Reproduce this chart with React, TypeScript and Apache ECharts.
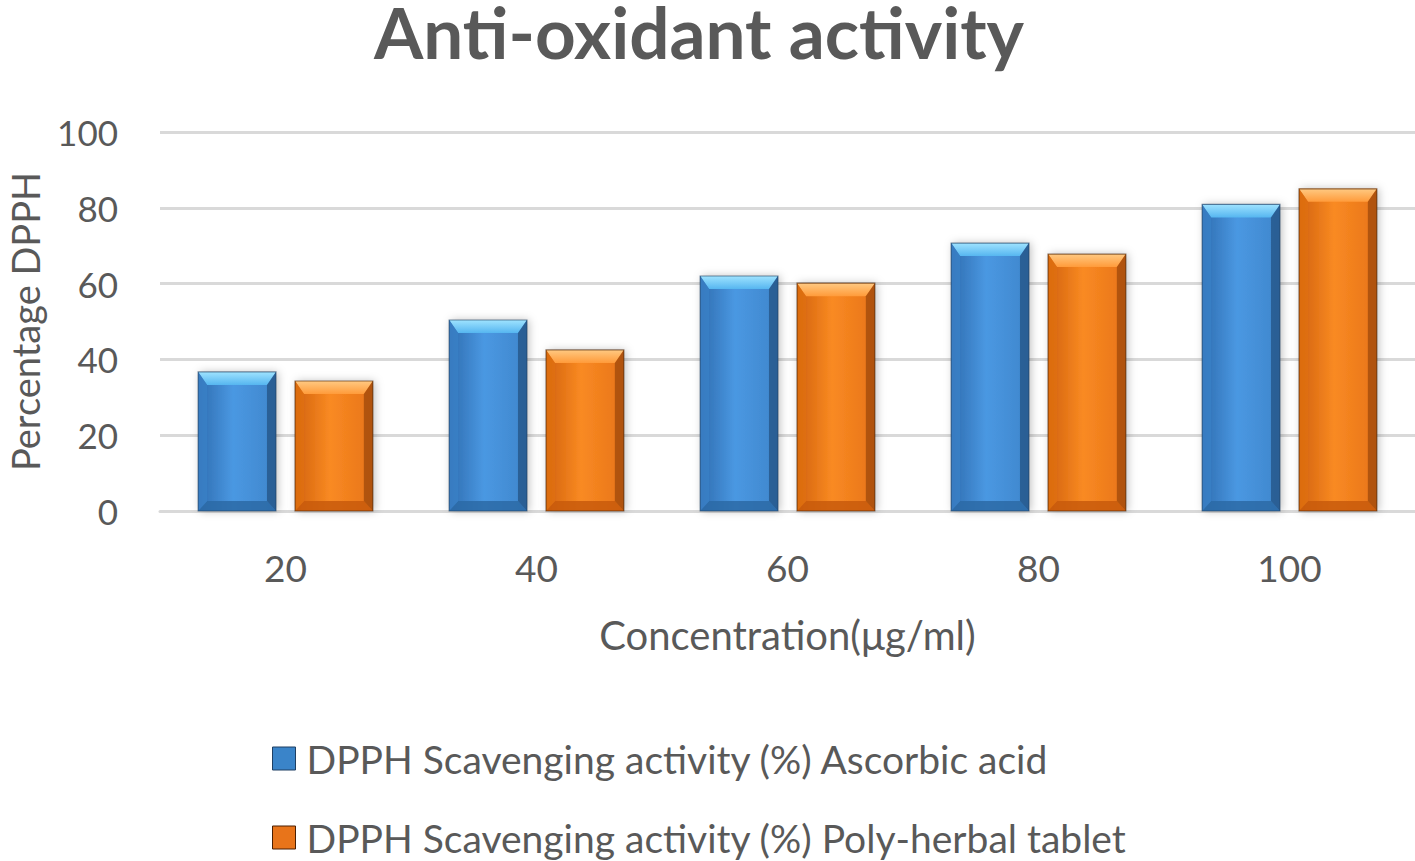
import React, { useEffect, useRef } from "react";
import * as echarts from "echarts";

const categories = ["20", "40", "60", "80", "100"];
const ascorbicAcid = [36.7, 50.4, 62.0, 70.7, 80.9];
const polyHerbal = [34.3, 42.5, 60.1, 67.8, 85.0];
const seriesNames = [
  "DPPH Scavenging activity (%) Ascorbic acid",
  "DPPH Scavenging activity (%) Poly-herbal tablet",
];
const yTicks = { min: 0, max: 100, interval: 20 };

const palettes = [
  { body: ["#2f6db0", "#4a98e2", "#3f86cc"], top: ["#9fe3ff", "#56b6f0"], bottom: "#2c6aa6", left: "#3a82c8", right: "#1c4470", outline: "#1e3f63", legend: "#3a84c9" },
  { body: ["#d2620e", "#f98a22", "#e8741a"], top: ["#ffc982", "#ff9b3a"], bottom: "#c85a0c", left: "#e0700f", right: "#8a3c05", outline: "#4a1f02", legend: "#e8741a" },
];

function makeRender(seriesIdx: number) {
  const p = palettes[seriesIdx];
  return (params: any, api: any) => {
    const cat = api.value(0);
    const val = api.value(1);
    const base = api.coord([cat, 0]);
    const topPt = api.coord([cat, val]);
    const band = api.size([1, 0])[0];
    const w = band * 0.31;
    const gap = w * 0.245;
    const cx = base[0] + (seriesIdx === 0 ? -(gap / 2 + w / 2) : gap / 2 + w / 2);
    const x = cx - w / 2;
    const y = topPt[1];
    const h = base[1] - topPt[1];
    const bt = Math.min(13, h / 3);
    const bs = 9;
    const bb = Math.min(10, h / 3);
    return {
      type: "group",
      children: [
        {
          type: "rect",
          shape: { x, y, width: w, height: h },
          style: {
            fill: new echarts.graphic.LinearGradient(0, 0, 1, 0, [
              { offset: 0, color: p.body[0] },
              { offset: 0.45, color: p.body[1] },
              { offset: 1, color: p.body[2] },
            ]),
            shadowBlur: 8,
            shadowColor: "rgba(0,0,0,0.25)",
            shadowOffsetX: 2,
            shadowOffsetY: 0,
          },
        },
        {
          type: "polygon",
          shape: { points: [[x, y], [x + w, y], [x + w - bs, y + bt], [x + bs, y + bt]] },
          style: {
            fill: new echarts.graphic.LinearGradient(0, 0, 0, 1, [
              { offset: 0, color: p.top[0] },
              { offset: 1, color: p.top[1] },
            ]),
          },
        },
        {
          type: "polygon",
          shape: { points: [[x, y + h], [x + w, y + h], [x + w - bs, y + h - bb], [x + bs, y + h - bb]] },
          style: { fill: p.bottom, opacity: 0.85 },
        },
        {
          type: "polygon",
          shape: { points: [[x, y], [x + bs, y + bt], [x + bs, y + h - bb], [x, y + h]] },
          style: { fill: p.left, opacity: 0.7 },
        },
        {
          type: "polygon",
          shape: { points: [[x + w, y], [x + w - bs, y + bt], [x + w - bs, y + h - bb], [x + w, y + h]] },
          style: { fill: p.right, opacity: 0.6 },
        },
        {
          type: "rect",
          shape: { x, y, width: w, height: h },
          style: { fill: "none", stroke: p.outline, lineWidth: 1.2, opacity: 0.6 },
        },
      ],
    };
  };
}

export default function App() {
  const ref = useRef<HTMLDivElement>(null);
  useEffect(() => {
    if (!ref.current) return;
    const chart = echarts.init(ref.current, null, { renderer: "svg" });
    const font = "Lato, 'Open Sans', sans-serif";
    const textColor = "#595959";
    const seriesData = [ascorbicAcid, polyHerbal];
    const legendTops = [739, 818];
    chart.setOption({
      animation: false,
      backgroundColor: "#ffffff",
      title: {
        text: "Anti-oxidant activity",
        left: 374,
        top: 0,
        padding: 0,
        textStyle: { fontFamily: font, fontSize: 71, lineHeight: 62, fontWeight: "bold", color: textColor },
      },
      grid: { left: 160, right: 0, top: 132, bottom: 350, containLabel: false, outerBoundsMode: "none" },
      legend: seriesNames.map((n, i) => ({
        orient: "vertical",
        left: 272,
        top: legendTops[i],
        padding: 0,
        itemWidth: 23,
        itemHeight: 23,
        icon: "rect",
        textStyle: { fontFamily: font, fontSize: 39, lineHeight: 39, color: textColor, padding: [0, 0, 0, 6] },
        data: [
          {
            name: n,
            itemStyle: { color: palettes[i].legend, borderColor: palettes[i].outline, borderWidth: 1 },
          },
        ],
      })),
      xAxis: {
        type: "category",
        data: categories,
        name: "Concentration(μg/ml)",
        nameLocation: "middle",
        nameGap: 104,
        nameTextStyle: { fontFamily: font, fontSize: 40, color: textColor },
        axisLine: { show: true, lineStyle: { color: "#d9d9d9", width: 3 } },
        axisTick: { show: false },
        axisLabel: { fontFamily: font, fontSize: 37, color: textColor, margin: 38 },
      },
      yAxis: {
        type: "value",
        min: yTicks.min,
        max: yTicks.max,
        interval: yTicks.interval,
        name: "Percentage DPPH",
        nameLocation: "middle",
        nameGap: 116,
        nameTextStyle: { fontFamily: font, fontSize: 38, color: textColor },
        axisLine: { show: false },
        axisTick: { show: false },
        axisLabel: { fontFamily: font, fontSize: 35, color: textColor, margin: 42 },
        splitLine: { lineStyle: { color: "#d9d9d9", width: 3 } },
      },
      series: seriesData.map((d, i) => ({
        type: "custom",
        name: seriesNames[i],
        renderItem: makeRender(i),
        itemStyle: { color: palettes[i].legend },
        encode: { x: 0, y: 1 },
        data: d.map((v, k) => [k, v]),
        z: 3,
      })),
    });
    return () => chart.dispose();
  }, []);
  return <div ref={ref} style={{ position: "absolute", left: 0, top: 0, width: 1415, height: 861 }} />;
}
